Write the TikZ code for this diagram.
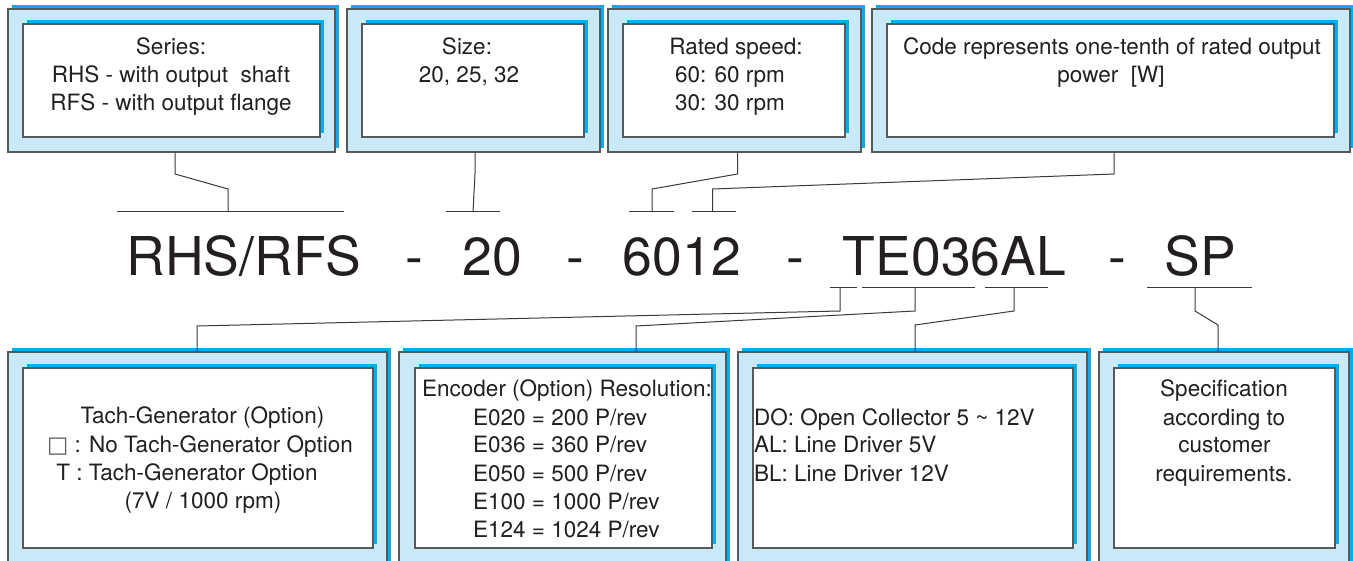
\documentclass[tikz,border=0pt]{standalone}
\usepackage{fontspec}
\setmainfont{TeX Gyre Heros}
\newfontfamily\symfont{DejaVu Sans}
\usetikzlibrary{shadows}
\definecolor{lblue}{HTML}{C7E9F8}
\definecolor{cshad}{HTML}{00AEEF}
\definecolor{bord}{HTML}{58595B}
\definecolor{txt}{HTML}{231F20}
\definecolor{wirec}{HTML}{3A3A3A}
\tikzset{
 outerbox/.style={draw=bord, line width=1.2pt, fill=lblue, inner sep=0pt,
   general shadow={fill=cshad, shadow xshift=4pt, shadow yshift=4pt}},
 innerbox/.style={draw=bord, line width=1.2pt, fill=white, inner sep=0pt,
   general shadow={fill=cshad, shadow xshift=3.5pt, shadow yshift=4pt}},
 lbl/.style={text=txt, font=\fontsize{22.5}{28}\selectfont, inner sep=0pt, anchor=base},
 lblw/.style={lbl, anchor=base west},
 code/.style={text=txt, font=\fontsize{53.5}{60}\selectfont, inner sep=0pt, anchor=base},
 wire/.style={draw=wirec, line width=1pt},
}
\newcommand\mkbox[6]{%
  \node[#6, minimum width={(#4-#2)*1pt}, minimum height={(#5-#3)*1pt}]
    (#1) at ({(#2+#4)/2},{(#3+#5)/2}) {};}
\begin{document}
\begin{tikzpicture}[x=1pt,y=-1pt]
\useasboundingbox (0,0) rectangle (1353,561);
\clip (0,0) rectangle (1353,561);
\fill[white] (0,0) rectangle (1353,561);
% top boxes
\mkbox{b1}{8}{9}{335}{152}{outerbox}
\mkbox{i1}{23}{24}{320}{137}{innerbox}
\mkbox{b2}{347}{9}{600}{152}{outerbox}
\mkbox{i2}{362}{24}{584}{137}{innerbox}
\mkbox{b3}{608}{9}{861}{152}{outerbox}
\mkbox{i3}{623}{24}{845}{137}{innerbox}
\mkbox{b4}{872}{9}{1350}{152}{outerbox}
\mkbox{i4}{887}{24}{1334}{137}{innerbox}
% bottom boxes
\mkbox{b5}{8}{352}{387}{590}{outerbox}
\mkbox{i5}{23}{368}{373}{548}{innerbox}
\mkbox{b6}{399}{352}{726}{590}{outerbox}
\mkbox{i6}{415}{368}{712}{548}{innerbox}
\mkbox{b7}{738}{352}{1087}{590}{outerbox}
\mkbox{i7}{753}{368}{1073}{548}{innerbox}
\mkbox{b8}{1099}{352}{1349}{590}{outerbox}
\mkbox{i8}{1114}{368}{1335}{548}{innerbox}
% texts top
\node[lbl] (t1a) at (171,55) {Series:};
\node[lbl] (t1b) at (171,83) {RHS - with output\ \ shaft};
\node[lbl] (t1c) at (171,111) {RFS - with output flange};
\node[lbl] (t2a) at (467,55) {Size:};
\node[lbl] (t2b) at (469,83) {20, 25, 32};
\node[lbl] (t3a) at (736,55) {Rated speed:};
\node[lbl] (t3b) at (730,83) {60: 60 rpm};
\node[lbl] (t3c) at (730,111) {30: 30 rpm};
\node[lbl] (t4a) at (1112,55) {Code represents one-tenth of rated output};
\node[lbl] (t4b) at (1111,83) {power\ \ [W]};
% texts bottom
\node[lbl] (t5a) at (202.5,424) {Tach-Generator (Option)};
\node[lbl] (t5b) at (200,452) {{\symfont\color{bord}□} : No Tach-Generator Option};
\node[lbl] (t5c) at (187,480) {T : Tach-Generator Option};
\node[lbl] (t5d) at (203,508) {(7V / 1000 rpm)};
\node[lblw] (t6a) at (422,397) {Encoder (Option) Resolution:};
\node[lblw] (t6b) at (473,425) {E020 = 200 P/rev};
\node[lblw] (t6c) at (473,453) {E036 = 360 P/rev};
\node[lblw] (t6d) at (473,481) {E050 = 500 P/rev};
\node[lblw] (t6e) at (473,509) {E100 = 1000 P/rev};
\node[lblw] (t6f) at (473,537) {E124 = 1024 P/rev};
\node[lblw] (t7a) at (754,425) {DO: Open Collector 5 \textasciitilde\ 12V};
\node[lblw] (t7b) at (754,453) {AL: Line Driver 5V};
\node[lblw] (t7c) at (754,481) {BL: Line Driver 12V};
\node[lbl] (t8a) at (1224,397) {Specification};
\node[lbl] (t8b) at (1224,425) {according to};
\node[lbl] (t8c) at (1224.5,453) {customer};
\node[lbl] (t8d) at (1224,481) {requirements.};
% code
\node[code] (c1) at (244,276) {RHS/RFS};
\node[code] (h1) at (414,276) {-};
\node[code] (c2) at (492,276) {20};
\node[code] (h2) at (575,276) {-};
\node[code] (c3) at (682,276) {6012};
\node[code] (h3) at (795,276) {-};
\node[code] (c4) at (954.5,276) {TE036AL};
\node[code] (h4) at (1117,276) {-};
\node[code] (c5) at (1200,276) {SP};
% top underlines
\coordinate (u1L) at (117,212); \coordinate (u1R) at (344,212); \coordinate (u1) at (228,212);
\coordinate (u2L) at (446,212); \coordinate (u2R) at (500,212); \coordinate (u2) at (473,212);
\coordinate (u3L) at (629,212); \coordinate (u3R) at (674,212); \coordinate (u3) at (652,212);
\coordinate (u4L) at (692,212); \coordinate (u4R) at (736,212); \coordinate (u4) at (712.5,212);
\draw[wire] (u1L) -- (u1R);
\draw[wire] (u2L) -- (u2R);
\draw[wire] (u3L) -- (u3R);
\draw[wire] (u4L) -- (u4R);
\coordinate (s1) at (175,174);
\coordinate (s2) at (475,174);
\coordinate (s3) at (737.5,174);
\coordinate (s4) at (1114,174);
\draw[wire] (b1.south -| s1) -- (s1) -- ([yshift=23pt]u1) -- (u1);
\draw[wire] (b2.south -| s2) -- (s2) -- (u2);
\draw[wire] (b3.south -| s3) -- (s3) -- ([yshift=23pt]u3) -- (u3);
\draw[wire] (b4.south -| s4) -- (s4) -- ([yshift=23pt]u4) -- (u4);
% bottom underlines
\coordinate (d1L) at (830,288); \coordinate (d1R) at (857,288); \coordinate (d1) at (840,288);
\coordinate (d2L) at (862,288); \coordinate (d2R) at (975,288); \coordinate (d2) at (915,288);
\coordinate (d3L) at (985,288); \coordinate (d3R) at (1048,288); \coordinate (d3) at (1014,288);
\coordinate (d4L) at (1147,288); \coordinate (d4R) at (1252,288); \coordinate (d4) at (1195,288);
\draw[wire] (d1L) -- (d1R);
\draw[wire] (d2L) -- (d2R);
\draw[wire] (d3L) -- (d3R);
\draw[wire] (d4L) -- (d4R);
\coordinate (e5) at (197,326);
\coordinate (e6) at (636,326);
\coordinate (e7) at (915,325);
\coordinate (e8) at (1218,325);
\draw[wire] (d1) -- ++(0,23) -- (e5) -- (e5 |- b5.north);
\draw[wire] (d2) -- ++(0,23) -- (e6) -- (e6 |- b6.north);
\draw[wire] (d3) -- ++(0,23) -- (e7) -- (e7 |- b7.north);
\draw[wire] (d4) -- ++(0,23) -- (e8) -- (e8 |- b8.north);
\end{tikzpicture}
\end{document}
